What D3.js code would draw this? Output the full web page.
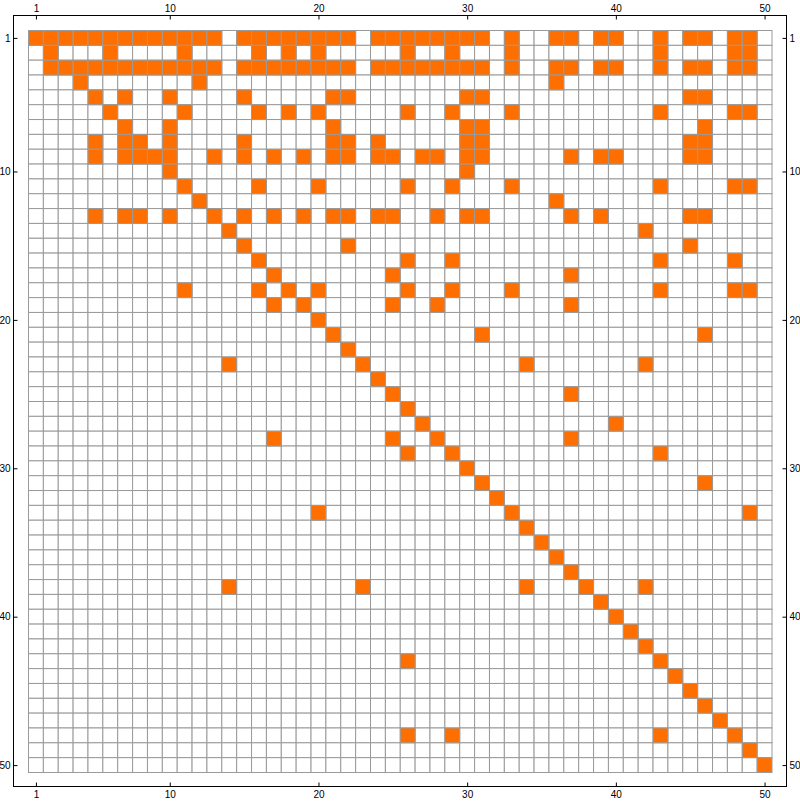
<!DOCTYPE html>
<html>
<head>
<meta charset="utf-8">
<script src="https://cdn.jsdelivr.net/npm/d3@7"></script>
<style>
  html, body { margin: 0; padding: 0; background: #fff; }
  svg { display: block; }
  .tick text { font-family: "Liberation Sans", Arial, sans-serif; font-size: 10px; fill: #000; }
</style>
</head>
<body>
<svg id="chart" width="800" height="803"></svg>
<script>
// Matrix indices (rows and columns 1..50)
const rowLabels = d3.range(1, 51);
const colLabels = d3.range(1, 51);
// Tick labels shown on each side
const tickLabels = [1, 10, 20, 30, 40, 50];
// Non-zero (filled) column indices for each row, row 1 first
const filledByRow = [
  [1,2,3,4,5,6,7,8,9,10,11,12,13,15,16,17,18,19,20,21,22,24,25,26,27,28,29,30,31,33,36,37,39,40,43,45,46,48,49],
  [2,6,11,16,18,20,26,29,33,43,48,49],
  [2,3,4,5,6,7,8,9,10,11,12,13,15,16,17,18,19,20,21,22,24,25,26,27,28,29,30,31,33,36,37,39,40,43,45,46,48,49],
  [4,12,36],
  [5,7,10,15,21,22,30,31,45,46],
  [6,11,16,18,20,26,29,33,43,48,49],
  [7,10,21,30,31,46],
  [5,7,8,10,15,21,22,24,30,31,45,46],
  [5,7,8,9,10,13,15,17,19,21,22,24,25,27,28,30,31,37,39,40,45,46],
  [10,30],
  [11,16,20,26,29,33,43,48,49],
  [12,36],
  [5,7,8,10,13,15,17,19,21,22,24,25,28,30,31,37,39,45,46],
  [14,42],
  [15,22,45],
  [16,26,29,43,48],
  [17,25,37],
  [11,16,18,20,26,29,33,43,48,49],
  [17,19,25,28,37],
  [20],
  [21,31,46],
  [22],
  [14,23,34,42],
  [24],
  [25,37],
  [26],
  [27,40],
  [17,25,28,37],
  [26,29,43],
  [30],
  [31,46],
  [32],
  [20,33,49],
  [34],
  [35],
  [36],
  [37],
  [14,23,34,38,42],
  [39],
  [40],
  [41],
  [42],
  [26,43],
  [44],
  [45],
  [46],
  [47],
  [26,29,43,48],
  [49],
  [50]
];

const svg = d3.select("#chart");
const gridLeft = 28.5, gridRight = 772, gridTop = 30.5, gridBottom = 772.5;
const frame = { left: 13.5, top: 15.5, right: 786.5, bottom: 786.5 };

const x = d3.scaleBand().domain(colLabels).range([gridLeft, gridRight]).padding(0);
const y = d3.scaleBand().domain(rowLabels).range([gridTop, gridBottom]).padding(0);

const filledSet = new Set();
filledByRow.forEach((cols, i) => cols.forEach(c => filledSet.add(rowLabels[i] + "-" + c)));

const cells = [];
rowLabels.forEach(r => colLabels.forEach(c => cells.push({ r, c, on: filledSet.has(r + "-" + c) })));

// empty cells first, then filled on top
svg.append("g").selectAll("rect")
  .data(cells.sort((a, b) => a.on - b.on))
  .join("rect")
  .attr("x", d => x(d.c))
  .attr("y", d => y(d.r))
  .attr("width", x.bandwidth())
  .attr("height", y.bandwidth())
  .attr("fill", d => d.on ? "#ff6f00" : "#ffffff")
  .attr("stroke", "#9a9a9a")
  .attr("stroke-width", 1);

// frame
svg.append("rect")
  .attr("x", frame.left).attr("y", frame.top)
  .attr("width", frame.right - frame.left).attr("height", frame.bottom - frame.top)
  .attr("fill", "none").attr("stroke", "#000").attr("stroke-width", 1);

const xc = d3.scalePoint().domain(colLabels).range([gridLeft + x.bandwidth() / 2, gridRight - x.bandwidth() / 2]);
const yc = d3.scalePoint().domain(rowLabels).range([gridTop + y.bandwidth() / 2, gridBottom - y.bandwidth() / 2]);

function style(g) {
  g.select(".domain").remove();
  g.selectAll(".tick line").attr("stroke", "#000");
}

svg.append("g").attr("transform", `translate(0,${frame.top})`)
  .call(d3.axisTop(xc).tickValues(tickLabels).tickSizeInner(-4).tickSizeOuter(0).tickPadding(4))
  .call(style);
svg.append("g").attr("transform", `translate(0,${frame.bottom})`)
  .call(d3.axisBottom(xc).tickValues(tickLabels).tickSizeInner(-4).tickSizeOuter(0).tickPadding(4))
  .call(style);
svg.append("g").attr("transform", `translate(${frame.left},0)`)
  .call(d3.axisLeft(yc).tickValues(tickLabels).tickSizeInner(-4).tickSizeOuter(0).tickPadding(3))
  .call(style);
svg.append("g").attr("transform", `translate(${frame.right},0)`)
  .call(d3.axisRight(yc).tickValues(tickLabels).tickSizeInner(-4).tickSizeOuter(0).tickPadding(3))
  .call(style);
</script>
</body>
</html>
